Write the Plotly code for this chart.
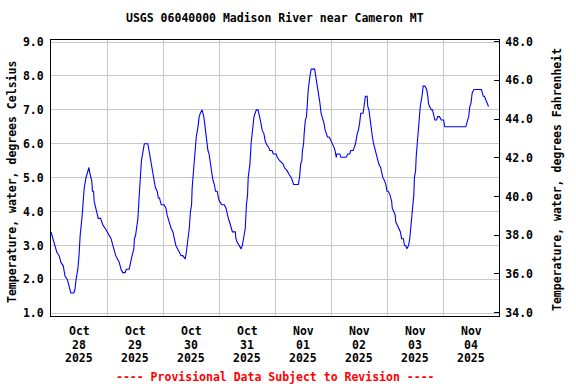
import pandas as pd
import plotly.graph_objects as go

# ---------------- data ----------------
start_time = "2025-10-28 00:00"
hours = [
    0.0, 0.75, 1.75, 2.5, 3.5, 4.25, 5.25, 6.0, 7.0, 7.75, 8.5, 9.75, 10.25, 10.75, 11.5, 12.0,
    12.5, 13.25, 13.75, 14.25, 15.0, 15.75, 16.25, 16.75, 17.5, 17.75, 18.25, 18.5, 19.25, 19.75,
    20.25, 21.25, 21.75, 22.25, 23.25, 24.0, 25.0, 25.75, 26.5, 27.25, 27.75, 28.5, 29.25, 30.0,
    30.75, 31.75, 32.25, 33.5, 34.0, 34.75, 35.5, 35.75, 36.25, 36.75, 37.25, 37.75, 38.25, 38.75,
    39.5, 40.0, 41.5, 42.0, 42.5, 43.25, 43.75, 44.25, 44.75, 45.5, 46.0, 46.5, 47.25, 48.5, 49.25,
    49.75,
    50.5, 51.5, 52.25, 53.0, 53.5, 54.25, 55.0, 55.75, 56.5, 57.5, 58.0, 58.5, 59.25, 59.75, 60.25,
    60.5, 61.0, 61.5, 61.75, 62.25, 63.0, 63.5, 64.0, 64.75, 65.5, 66.0, 66.5, 67.25, 67.75, 68.25,
    69.0, 69.5, 70.0, 70.5, 71.25, 71.75, 72.25, 73.25, 74.25, 75.0, 75.5, 76.0, 76.5, 77.25, 77.75,
    79.0, 79.25, 79.75, 80.5, 81.5, 82.0, 82.5, 83.25, 83.75, 84.25, 84.5, 85.25, 85.75, 86.25, 87.0,
    87.5, 88.0, 88.75, 89.5, 90.0, 90.5, 91.25, 91.75, 92.25, 93.25, 93.75, 94.75, 95.25, 96.5, 97.0,
    98.0,
    99.5, 100.0, 101.25, 102.0, 103.0, 103.5, 104.0, 106.0, 106.5, 107.0, 107.5, 107.75, 108.25,
    108.5, 109.0, 109.5, 109.75, 110.25, 111.0, 111.5, 113.0, 113.5, 114.0, 114.5, 115.25, 115.75,
    116.25, 117.0, 117.5, 118.0, 118.5, 119.25, 120.0, 120.5, 121.25, 121.75, 122.25, 122.5, 123.75,
    124.25, 126.5, 127.25, 128.0, 128.5, 129.5, 130.0, 130.5, 131.25, 131.75, 132.25, 132.75, 133.75,
    134.25, 134.75, 135.5, 135.75, 136.25, 136.75, 137.25, 137.75, 138.25, 139.0, 139.5, 140.0,
    140.5, 141.25, 141.75, 142.25, 143.0, 143.5, 144.0, 144.5, 145.25,
    146.0, 146.25, 147.0, 147.5, 147.75, 148.5, 149.25, 149.75, 150.25, 151.0, 151.5, 152.0, 152.5,
    153.25, 153.75, 154.25, 155.0, 155.5, 155.75, 156.25, 156.5, 157.0, 157.5, 157.75, 158.25, 159.0,
    159.5, 160.25, 161.0, 161.5, 161.75, 162.25, 163.0, 163.5, 164.0, 164.5, 165.25, 165.75, 166.5,
    167.25, 168.25, 168.75, 177.75, 178.25, 179.0, 179.5, 180.0, 180.5, 181.25, 184.5, 185.25,
    185.75, 186.25, 187.0, 187.5,
]
temp_c = [
    3.4, 3.2, 3.0, 2.8, 2.7, 2.5, 2.4, 2.1, 2.0, 1.8, 1.6, 1.6, 1.7, 2.0, 2.3, 2.7,
    3.3, 3.8, 4.3, 4.7, 5.0, 5.2, 5.3, 5.1, 4.9, 4.6, 4.6, 4.3, 4.1, 4.0,
    3.8, 3.8, 3.7, 3.6, 3.5, 3.4, 3.3, 3.2, 3.0, 2.8, 2.7, 2.6, 2.5, 2.3,
    2.2, 2.2, 2.3, 2.3, 2.5, 2.7, 2.9, 3.2, 3.3, 3.5, 3.8, 4.4, 5.0, 5.5,
    5.8, 6.0, 6.0, 5.8, 5.6, 5.3, 5.1, 4.9, 4.7, 4.6, 4.4, 4.4, 4.2, 4.2, 4.1,
    3.9,
    3.7, 3.5, 3.4, 3.2, 3.0, 2.9, 2.8, 2.7, 2.7, 2.6, 2.8, 3.1, 3.5, 4.0, 4.2,
    4.7, 5.2, 5.4, 5.8, 6.2, 6.5, 6.8, 6.9, 7.0, 6.8, 6.5, 6.3, 5.8, 5.7, 5.4,
    5.1, 4.9, 4.8, 4.6, 4.6, 4.4, 4.3, 4.2, 4.2, 4.1, 3.9, 3.8, 3.7, 3.5, 3.4,
    3.4, 3.2, 3.1, 3.0, 2.9, 3.0, 3.2, 3.5, 4.2, 4.5, 5.0, 5.4, 6.0, 6.4, 6.8,
    6.9, 7.0, 7.0, 6.8, 6.6, 6.4, 6.3, 6.1, 6.0, 5.9, 5.8, 5.8, 5.7, 5.7, 5.6,
    5.5,
    5.4, 5.3, 5.2, 5.1, 5.0, 4.9, 4.8, 4.8, 5.0, 5.4, 5.5, 5.8, 6.0,
    6.3, 6.7, 6.8, 7.2, 7.6, 8.0, 8.2, 8.2, 8.0, 7.8, 7.5, 7.2, 6.9,
    6.8, 6.6, 6.4, 6.3, 6.2, 6.2, 6.1, 6.0, 5.9, 5.8, 5.6, 5.7, 5.7,
    5.6, 5.6, 5.7, 5.7, 5.8, 5.8, 5.9, 6.0, 6.3, 6.4, 6.6, 6.9, 6.9,
    7.1, 7.4, 7.4, 7.1, 7.0, 6.7, 6.5, 6.2, 6.0, 5.8, 5.7, 5.5,
    5.4, 5.3, 5.1, 5.0, 4.9, 4.8, 4.6, 4.6, 4.5,
    4.3, 4.1, 4.0, 3.9, 3.7, 3.6, 3.5, 3.4, 3.2, 3.2, 3.0, 3.0, 2.9,
    3.0, 3.2, 3.6, 4.0, 4.5, 5.0, 5.2, 5.6, 6.1, 6.3, 6.8, 7.1, 7.4,
    7.7, 7.7, 7.6, 7.4, 7.2, 7.1, 7.0, 7.0, 6.8, 6.7, 6.7, 6.8, 6.8,
    6.7, 6.7, 6.5, 6.5, 6.6, 6.8, 7.1, 7.2, 7.5, 7.6, 7.6, 7.4,
    7.4, 7.3, 7.2, 7.1,
]
day_dates = ["2025-10-28", "2025-10-29", "2025-10-30", "2025-10-31",
             "2025-11-01", "2025-11-02", "2025-11-03", "2025-11-04"]
celsius_ticks = [1.0, 2.0, 3.0, 4.0, 5.0, 6.0, 7.0, 8.0, 9.0]
fahrenheit_ticks = [34.0, 36.0, 38.0, 40.0, 42.0, 44.0, 46.0, 48.0]

title_text = "USGS 06040000 Madison River near Cameron MT"
left_title = "Temperature, water, degrees Celsius"
right_title = "Temperature, water, degrees Fahrenheit"
footer_text = "---- Provisional Data Subject to Revision ----"

# ---------------- figure ----------------
FONT = "DejaVu Sans Mono"
FS = 11.5
GRID = "#c8c8c8"

t0 = pd.Timestamp(start_time)
x_times = [t0 + pd.Timedelta(hours=h) for h in hours]

fig = go.Figure()
fig.add_trace(go.Scatter(x=x_times, y=temp_c, mode="lines",
                         line=dict(color="#0000ff", width=1.1),
                         showlegend=False, hoverinfo="skip"))
fig.add_trace(go.Scatter(x=[None], y=[None], yaxis="y2", mode="lines",
                         showlegend=False, hoverinfo="skip"))

font_b = dict(family=FONT, size=FS, color="black", weight="bold")

fig.update_layout(
    width=576, height=384,
    margin=dict(l=51, r=77, t=40, b=68),
    paper_bgcolor="white", plot_bgcolor="white",
    xaxis=dict(
        type="date",
        range=[pd.Timestamp(day_dates[0]), pd.Timestamp(day_dates[-1]) + pd.Timedelta(days=1)],
        tick0=day_dates[0], dtick=86400000,
        showgrid=True, gridcolor=GRID, gridwidth=1,
        showticklabels=False, ticks="",
        showline=True, linecolor="black", linewidth=1, mirror=True,
        zeroline=False, fixedrange=True,
    ),
    yaxis=dict(
        range=[0.92, 9.06],
        tickvals=celsius_ticks, ticktext=[f"{v:.1f}" for v in celsius_ticks],
        showgrid=True, gridcolor=GRID, gridwidth=1,
        ticks="", tickfont=font_b, ticklabelstandoff=4,
        showline=True, linecolor="black", linewidth=1, mirror=True,
        zeroline=False,
    ),
    yaxis2=dict(
        overlaying="y", side="right", anchor="x",
        range=[33.83, 48.08],
        tickvals=fahrenheit_ticks, ticktext=[f"{v:.1f}" for v in fahrenheit_ticks],
        showgrid=False, ticks="inside", ticklen=5, tickcolor="black",
        tickfont=font_b, ticklabelstandoff=3,
        showline=True, linecolor="black", linewidth=1,
        zeroline=False,
    ),
)

annotations = []
# title
annotations.append(dict(text=title_text, xref="paper", yref="paper", x=0.5, y=1,
                        yshift=22, showarrow=False, font=font_b,
                        xanchor="center", yanchor="middle"))
# axis titles
annotations.append(dict(text=left_title, xref="paper", yref="paper", x=0, y=0.5,
                        xshift=-39, yshift=-4, textangle=-90, showarrow=False,
                        font=font_b, xanchor="center", yanchor="middle"))
annotations.append(dict(text=right_title, xref="paper", yref="paper", x=1, y=0.5,
                        xshift=58, yshift=-2, textangle=-90, showarrow=False,
                        font=font_b, xanchor="center", yanchor="middle"))
# date labels (centred at noon of each day)
for d in day_dates:
    ts = pd.Timestamp(d)
    noon = ts + pd.Timedelta(hours=12)
    for line, shift in zip([ts.strftime("%b"), ts.strftime("%d"), ts.strftime("%Y")],
                           [-15, -28.5, -41.5]):
        annotations.append(dict(text=line, xref="x", yref="paper", x=noon, y=0,
                                yshift=shift, showarrow=False, font=font_b,
                                xanchor="center", yanchor="middle"))
# footer
annotations.append(dict(text=footer_text, xref="paper", yref="paper", x=0.5, y=0,
                        yshift=-61, showarrow=False,
                        font=dict(family=FONT, size=FS, color="#ff0000", weight="bold"),
                        xanchor="center", yanchor="middle"))
fig.update_layout(annotations=annotations)

fig.write_html("out.html",
               config={"displayModeBar": False, "staticPlot": True},
               post_script="document.body.style.margin='0';document.body.style.overflow='hidden';")
